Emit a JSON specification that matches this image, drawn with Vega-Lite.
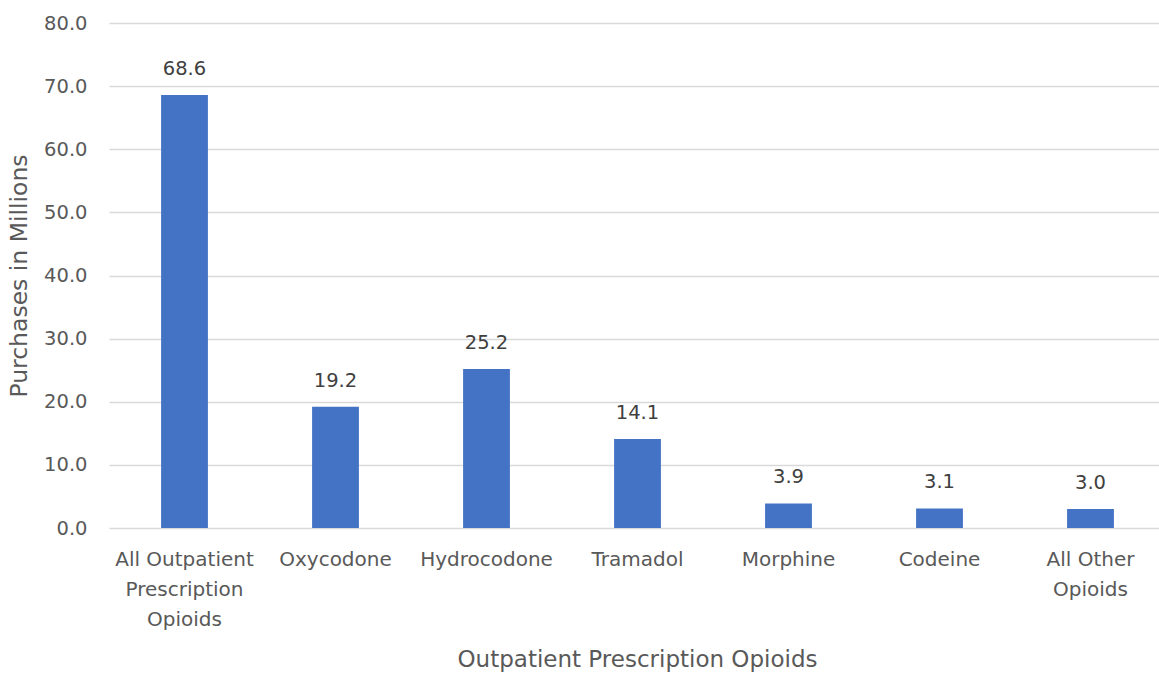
{
  "$schema": "https://vega.github.io/schema/vega-lite/v6.json",
  "width": 1050,
  "height": 505,
  "autosize": {"type": "none"},
  "padding": {"left": 109, "top": 23, "right": 0, "bottom": 145},
  "background": "white",
  "config": {
    "view": {"stroke": null},
    "font": "DejaVu Sans",
    "axis": {"labelFont": "DejaVu Sans", "titleFont": "DejaVu Sans", "labelColor": "#595959", "titleColor": "#595959", "titleFontWeight": "normal"}
  },
  "data": {
    "values": [
      {"drug": "All Outpatient Prescription Opioids", "value": 68.6},
      {"drug": "Oxycodone", "value": 19.2},
      {"drug": "Hydrocodone", "value": 25.2},
      {"drug": "Tramadol", "value": 14.1},
      {"drug": "Morphine", "value": 3.9},
      {"drug": "Codeine", "value": 3.1},
      {"drug": "All Other Opioids", "value": 3.0}
    ]
  },
  "encoding": {
    "x": {
      "field": "drug", "type": "nominal", "sort": null,
      "scale": {"range": [0, 1057], "paddingInner": 0.69, "paddingOuter": 0.345},
      "axis": {
        "title": "Outpatient Prescription Opioids",
        "titleFontSize": 23, "titlePadding": 19, "titleX": 528,
        "labelFontSize": 20, "labelAngle": 0, "labelPadding": 21, "labelLineHeight": 30,
        "labelExpr": "datum.value == 'All Outpatient Prescription Opioids' ? ['All Outpatient', 'Prescription', 'Opioids'] : datum.value == 'All Other Opioids' ? ['All Other', 'Opioids'] : datum.value",
        "domain": false, "ticks": false, "grid": false
      }
    },
    "y": {
      "field": "value", "type": "quantitative",
      "scale": {"domain": [0, 80], "nice": false},
      "axis": {
        "title": "Purchases in Millions", "titleFontSize": 23.5, "titlePadding": 12,
        "values": [0, 10, 20, 30, 40, 50, 60, 70, 80], "format": ".1f",
        "labelFontSize": 19.5, "labelPadding": 22,
        "domain": false, "ticks": false,
        "grid": true, "gridColor": "#d9d9d9", "gridWidth": 1.5
      }
    }
  },
  "layer": [
    {"mark": {"type": "bar", "color": "#4472C4"}},
    {
      "mark": {"type": "text", "baseline": "middle", "dy": -26, "fontSize": 19.5, "color": "#404040", "font": "DejaVu Sans"},
      "encoding": {"text": {"field": "value", "type": "quantitative", "format": ".1f"}}
    }
  ]
}
